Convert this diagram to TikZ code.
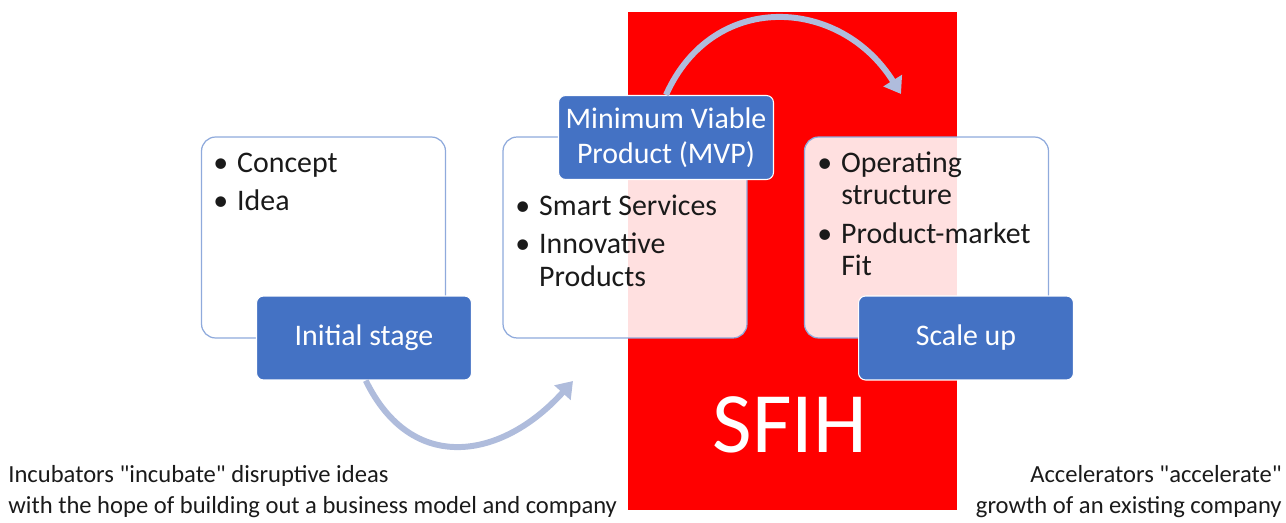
\documentclass[tikz,border=0pt]{standalone}
\usepackage{fontspec}
\setmainfont{Carlito}[Ligatures=TeXOff]
\usetikzlibrary{arrows.meta}
\definecolor{hubred}{HTML}{FF0000}
\definecolor{stageblue}{HTML}{4472C4}
\definecolor{edgeblue}{HTML}{8FAADC}
\definecolor{arcblue}{HTML}{AFBCDC}
\definecolor{ink}{HTML}{1A1A1A}
\begin{document}
\begin{tikzpicture}[x=0.02cm,y=-0.02cm,text=ink,
    card/.style={draw=edgeblue,line width=0.7pt,fill=white,fill opacity=0.88,
        rounded corners=8pt,minimum width=4.88cm,minimum height=4.02cm},
    stage/.style={draw=white,line width=0.6pt,fill=stageblue,text=white,
        rounded corners=4pt,minimum width=4.3cm,minimum height=1.68cm,
        align=center,font=\fontsize{17}{20}\selectfont},
    bullets/.style={anchor=north west,inner sep=0pt,font=\fontsize{17}{18.5}\selectfont},
    swing/.style={arcblue,line width=3.4pt,-{Triangle[length=9pt,width=12pt]}},
    note/.style={inner sep=0pt,font=\fontsize{14}{17.5}\selectfont}]
    \useasboundingbox (0,0) rectangle (1286,523);
    % the hub in the middle
    \fill[hubred] (628,12) rectangle (957,510);
    \node[text=white,font=\fontsize{49}{50}\selectfont] (hub) at (790,425) {SFIH};
    % three cards
    \node[card] (ideas) at (323.5,237.5) {};
    \node[card] (product) at (625,237.5) {};
    \node[card] (market) at (926.5,237.5) {};
    \node[bullets] (ideaslist) at (213,149) {\begin{tabular}{@{}p{13.6pt}@{}l@{}}
        \textbullet & Concept\\[3.5pt]
        \textbullet & Idea
    \end{tabular}};
    \node[bullets] (productlist) at (515,192) {\begin{tabular}{@{}p{13.6pt}@{}l@{}}
        \textbullet & Smart Services\\[3.5pt]
        \textbullet & Innovative\\
        & Products
    \end{tabular}};
    \node[bullets] (marketlist) at (817,149) {\begin{tabular}{@{}p{13.6pt}@{}l@{}}
        \textbullet & Operating\\
        & structure\\[3.5pt]
        \textbullet & Product-market\\
        & Fit
    \end{tabular}};
    % stage labels
    \node[stage] (initial) at (364,338) {Initial stage};
    \node[stage] (mvp) at (666,137.5) {Minimum Viable\\Product (MVP)};
    \node[stage] (scale) at (966,338) {Scale up};
    % arrows between the stages
    \coordinate (intoproduct) at (573,381);
    \coordinate (intomarket) at (901,94);
    \draw[swing] ([xshift=1pt]initial.south) to[out=-64,in=-132,looseness=1.3] (intoproduct);
    \draw[swing] (mvp.north) to[out=66,in=122,looseness=1.25] (intomarket);
    % captions
    \node[note,anchor=south west,align=left] (incubators) at (8,518)
        {Incubators "incubate" disruptive ideas\\with the hope of building out a business model and company};
    \node[note,anchor=south east,align=right] (accelerators) at (1282,518)
        {Accelerators "accelerate"\\growth of an existing company};
\end{tikzpicture}
\end{document}
